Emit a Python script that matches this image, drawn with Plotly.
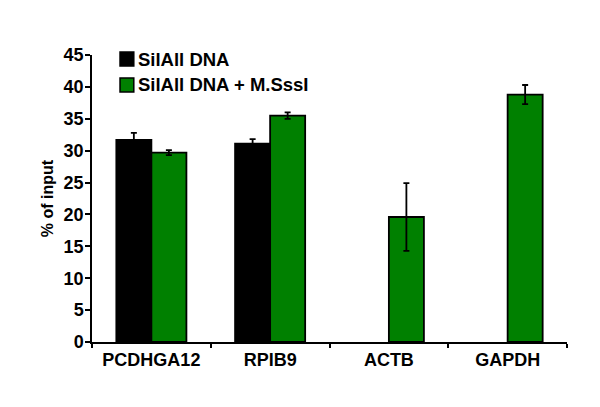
import plotly.graph_objects as go

genes = ["PCDHGA12", "RPIB9", "ACTB", "GAPDH"]
silall = [31.7, 31.1, None, None]
silall_err = [1.1, 0.7, 0, 0]
msssi = [29.7, 35.5, 19.6, 38.8]
msssi_err = [0.4, 0.5, 5.3, 1.5]
series_names = ["SilAll DNA", "SilAll DNA + M.SssI"]
colors = ["#000000", "#008000"]

FONT = "Liberation Sans, Arial, sans-serif"

fig = go.Figure()
for name, vals, errs, col in zip(series_names, [silall, msssi], [silall_err, msssi_err], colors):
    fig.add_trace(go.Bar(
        x=genes, y=vals, name=name,
        marker=dict(color=col, line=dict(color="#000000", width=1.8)),
        error_y=dict(type="data", array=errs, color="#000000", thickness=1.8, width=3)
    ))

# hand-drawn legend, top-left inside the plot
leg_y = [0.986, 0.8955]
for name, col, yc in zip(series_names, colors, leg_y):
    fig.add_shape(type="rect", xref="paper", yref="paper",
                  x0=0.059, x1=0.088, y0=yc - 0.0245, y1=yc + 0.0245,
                  fillcolor=col, line=dict(color="#000000", width=1.5))
    fig.add_annotation(text=name, xref="paper", yref="paper", x=0.093, y=yc,
                       xanchor="left", yanchor="middle", showarrow=False,
                       font=dict(family=FONT, size=18.5, color="#000000", weight="bold"))

# page body adds an 8px offset, so margins are shifted accordingly
fig.update_layout(
    width=600, height=407,
    margin=dict(l=84, r=41, t=47, b=73),
    plot_bgcolor="white", paper_bgcolor="white",
    barmode="group", bargap=0.41, bargroupgap=0,
    font=dict(family=FONT, color="#000000"),
    showlegend=False,
)
fig.update_yaxes(
    range=[0, 45], dtick=5, showgrid=False, zeroline=False,
    showline=True, linecolor="#000000", linewidth=1.5,
    ticks="outside", ticklen=5, tickcolor="#000000", tickwidth=1.5,
    ticklabelstandoff=-2,
    tickfont=dict(size=18, weight="bold"),
    title=dict(text="% of input", font=dict(size=16, weight="bold"), standoff=6),
)
fig.update_xaxes(
    showgrid=False, showline=True, linecolor="#000000", linewidth=1.8,
    ticks="outside", tickson="boundaries", ticklen=4, tickcolor="#000000", tickwidth=1.5,
    tickfont=dict(size=18, weight="bold"),
)
fig.write_html("out.html")
